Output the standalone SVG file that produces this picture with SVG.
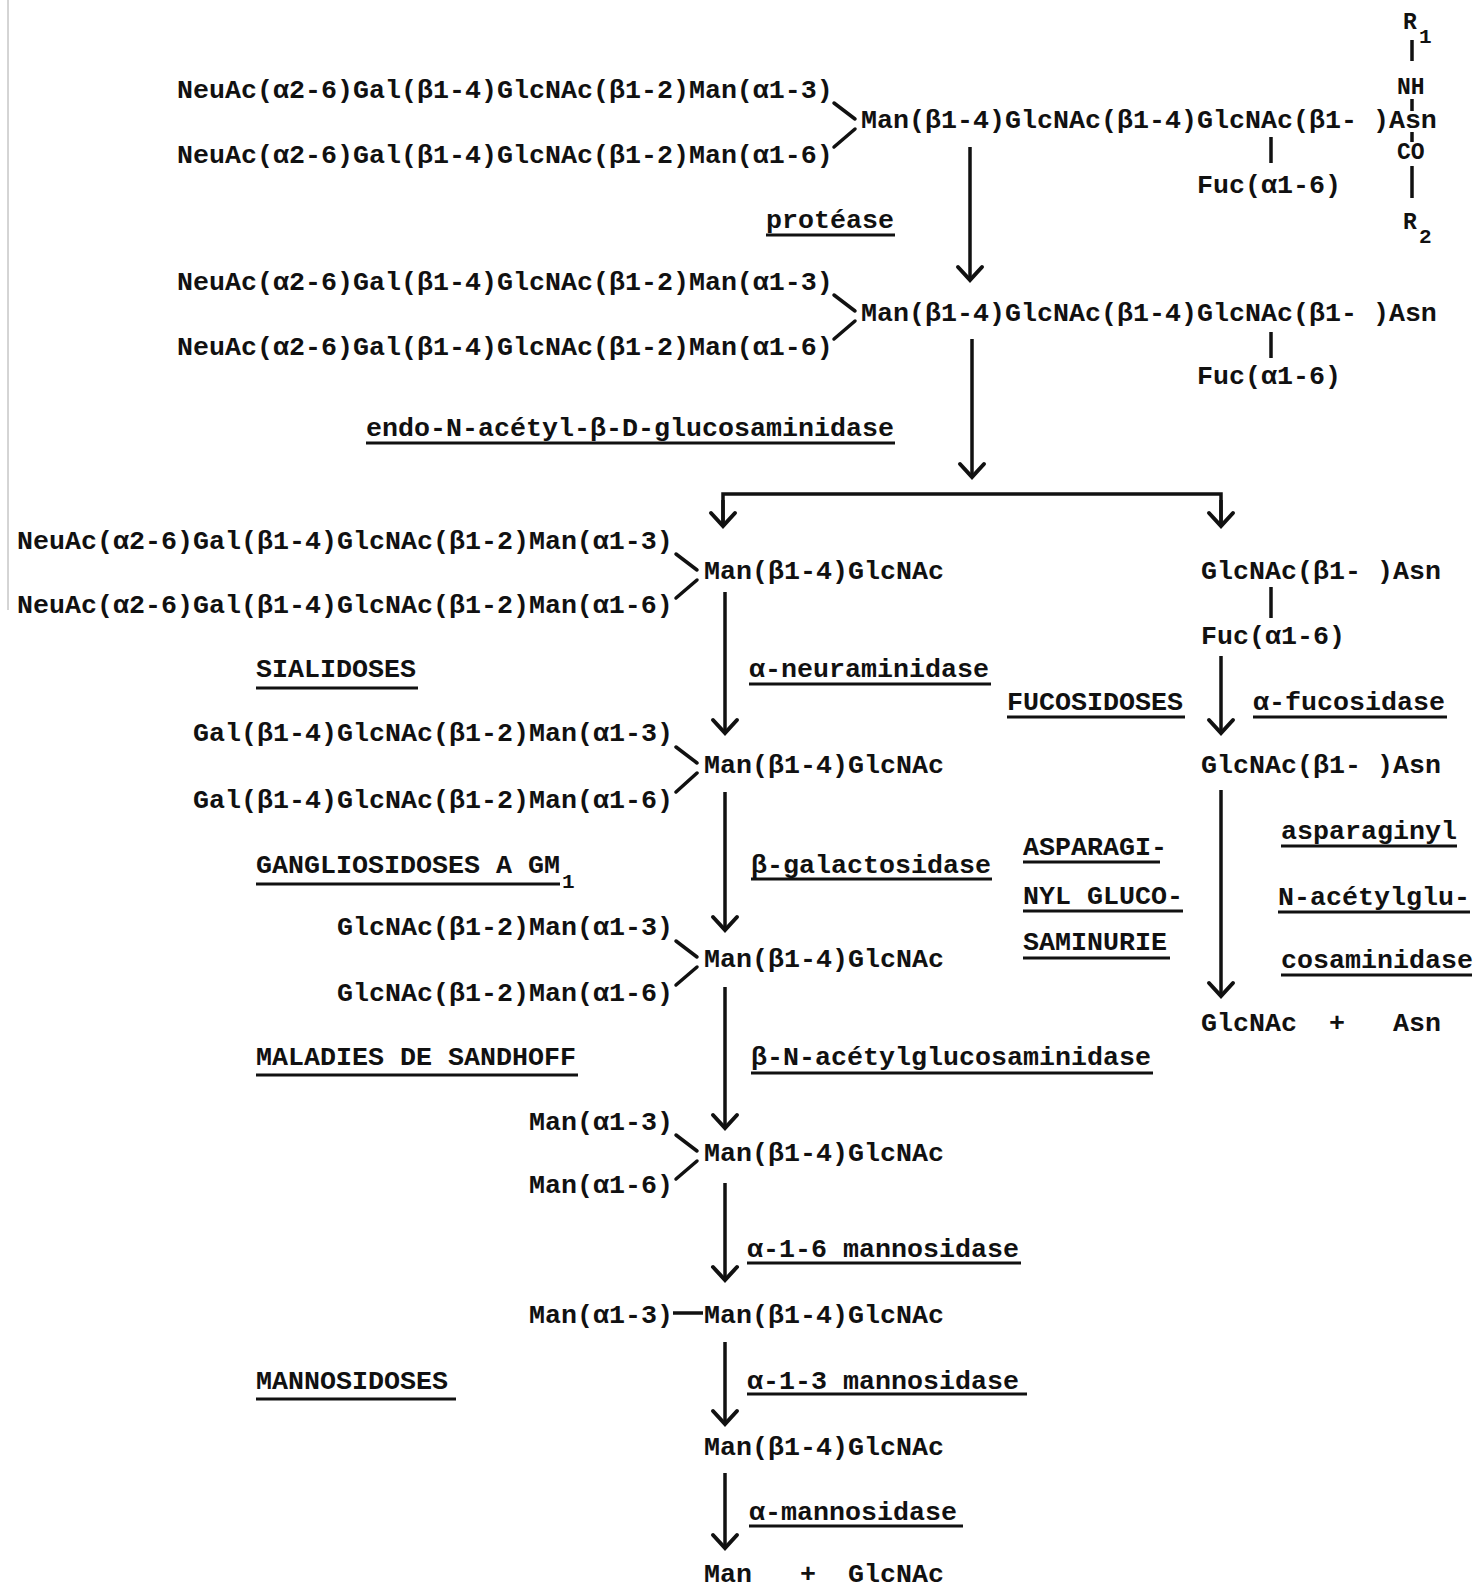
<svg xmlns="http://www.w3.org/2000/svg" width="1475" height="1587" viewBox="0 0 1475 1587">
<style>
.t{font-family:"Liberation Mono","Courier New",monospace;font-size:26.67px;font-weight:bold;fill:#111}
.s{font-size:23px}
.sub{font-size:21px}
.ul{stroke:#111;stroke-width:3;fill:none}
.b{stroke:#111;stroke-width:3.5;fill:none;stroke-linecap:round}
.c{stroke:#111;stroke-width:3.5;fill:none}
.ca{stroke:#111;stroke-width:3.5;fill:none;marker-end:url(#ah)}
</style>
<defs>
<marker id="ah" viewBox="-16 -14 20 28" refX="0" refY="0" markerWidth="20" markerHeight="28" markerUnits="userSpaceOnUse" orient="auto" overflow="visible">
<path d="M-13,-12 L0,0 L-13,12" fill="none" stroke="#111" stroke-width="4" stroke-linecap="round"/>
</marker>
</defs>
<rect width="1475" height="1587" fill="#fff"/>
<line x1="8" y1="0" x2="8" y2="610" stroke="#aaa" stroke-width="1"/>

<g id="node-glycopeptide">
<text class="t" x="177" y="98">NeuAc(α2-6)Gal(β1-4)GlcNAc(β1-2)Man(α1-3)</text>
<text class="t" x="177" y="163">NeuAc(α2-6)Gal(β1-4)GlcNAc(β1-2)Man(α1-6)</text>
<path class="b" d="M834,103 L855,119 M855,129 L834,147"/>
<text class="t" x="861" y="128">Man(β1-4)GlcNAc(β1-4)GlcNAc(β1- )Asn</text>
<line class="c" x1="1271" y1="137" x2="1271" y2="163"/>
<text class="t" x="1197" y="193">Fuc(α1-6)</text>
<text class="t s" x="1403" y="29">R</text>
<text class="t sub" x="1419" y="43">1</text>
<line class="c" x1="1412" y1="40" x2="1412" y2="61"/>
<text class="t s" x="1397" y="94">NH</text>
<line class="c" x1="1412" y1="99" x2="1412" y2="111"/>
<line class="c" x1="1412" y1="132" x2="1412" y2="142"/>
<text class="t s" x="1397" y="159">CO</text>
<line class="c" x1="1412" y1="166" x2="1412" y2="198"/>
<text class="t s" x="1403" y="229">R</text>
<text class="t sub" x="1419" y="243">2</text>
</g>

<g id="label-protease">
<text class="t" x="766" y="228">protéase</text>
<line class="ul" x1="766" y1="235" x2="895" y2="235"/>
</g>

<g id="node-glycan-asn">
<text class="t" x="177" y="290">NeuAc(α2-6)Gal(β1-4)GlcNAc(β1-2)Man(α1-3)</text>
<text class="t" x="177" y="355">NeuAc(α2-6)Gal(β1-4)GlcNAc(β1-2)Man(α1-6)</text>
<path class="b" d="M834,295 L855,311 M855,321 L834,339"/>
<text class="t" x="861" y="321">Man(β1-4)GlcNAc(β1-4)GlcNAc(β1- )Asn</text>
<line class="c" x1="1271" y1="332" x2="1271" y2="358"/>
<text class="t" x="1197" y="384">Fuc(α1-6)</text>
</g>

<g id="label-endo">
<text class="t" x="366" y="436">endo-N-acétyl-β-D-glucosaminidase</text>
<line class="ul" x1="366" y1="443" x2="895" y2="443"/>
</g>

<g id="node-sialo">
<text class="t" x="17" y="549">NeuAc(α2-6)Gal(β1-4)GlcNAc(β1-2)Man(α1-3)</text>
<text class="t" x="17" y="613">NeuAc(α2-6)Gal(β1-4)GlcNAc(β1-2)Man(α1-6)</text>
<path class="b" d="M676,554 L697,570 M697,580 L676,598"/>
<text class="t" x="704" y="579">Man(β1-4)GlcNAc</text>
</g>

<g id="node-fuc-asn">
<text class="t" x="1201" y="579">GlcNAc(β1- )Asn</text>
<line class="c" x1="1271" y1="587" x2="1271" y2="618"/>
<text class="t" x="1201" y="644">Fuc(α1-6)</text>
</g>

<g id="label-sialidoses">
<text class="t" x="256" y="677">SIALIDOSES</text>
<line class="ul" x1="256" y1="688" x2="418" y2="688"/>
</g>
<g id="label-neuraminidase">
<text class="t" x="749" y="677">α-neuraminidase</text>
<line class="ul" x1="749" y1="684" x2="991" y2="684"/>
</g>
<g id="label-fucosidoses">
<text class="t" x="1007" y="710">FUCOSIDOSES</text>
<line class="ul" x1="1007" y1="717" x2="1185" y2="717"/>
</g>
<g id="label-fucosidase">
<text class="t" x="1253" y="710">α-fucosidase</text>
<line class="ul" x1="1253" y1="717" x2="1447" y2="717"/>
</g>

<g id="node-asialo">
<text class="t" x="193" y="741">Gal(β1-4)GlcNAc(β1-2)Man(α1-3)</text>
<text class="t" x="193" y="808">Gal(β1-4)GlcNAc(β1-2)Man(α1-6)</text>
<path class="b" d="M676,747 L697,763 M697,773 L676,792"/>
<text class="t" x="704" y="773">Man(β1-4)GlcNAc</text>
</g>

<g id="node-glcnac-asn">
<text class="t" x="1201" y="773">GlcNAc(β1- )Asn</text>
</g>

<g id="label-gangliosidoses">
<text class="t" x="256" y="873">GANGLIOSIDOSES A GM</text>
<text class="t sub" x="562" y="888">1</text>
<line class="ul" x1="256" y1="884" x2="560" y2="884"/>
</g>
<g id="label-galactosidase">
<text class="t" x="751" y="873">β-galactosidase</text>
<line class="ul" x1="751" y1="879" x2="992" y2="879"/>
</g>
<g id="label-aspartylglucosaminurie">
<text class="t" x="1023" y="855">ASPARAGI-</text>
<line class="ul" x1="1023" y1="862" x2="1160" y2="862"/>
<text class="t" x="1023" y="904">NYL GLUCO-</text>
<line class="ul" x1="1023" y1="911" x2="1183" y2="911"/>
<text class="t" x="1023" y="950">SAMINURIE</text>
<line class="ul" x1="1023" y1="958" x2="1170" y2="958"/>
</g>
<g id="label-aga">
<text class="t" x="1281" y="839">asparaginyl</text>
<line class="ul" x1="1281" y1="846" x2="1457" y2="846"/>
<text class="t" x="1278" y="905">N-acétylglu-</text>
<line class="ul" x1="1278" y1="912" x2="1470" y2="912"/>
<text class="t" x="1281" y="968">cosaminidase</text>
<line class="ul" x1="1281" y1="975" x2="1472" y2="975"/>
</g>
<g id="node-products-asn">
<text class="t" x="1201" y="1031" xml:space="preserve">GlcNAc  +   Asn</text>
</g>

<g id="node-agalacto">
<text class="t" x="337" y="935">GlcNAc(β1-2)Man(α1-3)</text>
<text class="t" x="337" y="1001">GlcNAc(β1-2)Man(α1-6)</text>
<path class="b" d="M676,941 L697,957 M697,967 L676,985"/>
<text class="t" x="704" y="967">Man(β1-4)GlcNAc</text>
</g>

<g id="label-sandhoff">
<text class="t" x="256" y="1065">MALADIES DE SANDHOFF</text>
<line class="ul" x1="256" y1="1075" x2="578" y2="1075"/>
</g>
<g id="label-hexosaminidase">
<text class="t" x="751" y="1065">β-N-acétylglucosaminidase</text>
<line class="ul" x1="751" y1="1073" x2="1153" y2="1073"/>
</g>

<g id="node-man3">
<text class="t" x="529" y="1130">Man(α1-3)</text>
<text class="t" x="529" y="1193">Man(α1-6)</text>
<path class="b" d="M676,1135 L697,1151 M697,1161 L676,1179"/>
<text class="t" x="704" y="1161">Man(β1-4)GlcNAc</text>
</g>

<g id="label-mannosidase16">
<text class="t" x="747" y="1257">α-1-6 mannosidase</text>
<line class="ul" x1="747" y1="1263" x2="1021" y2="1263"/>
</g>

<g id="node-man2">
<text class="t" x="529" y="1323">Man(α1-3)</text>
<line class="c" x1="673" y1="1313" x2="703" y2="1313"/>
<text class="t" x="704" y="1323">Man(β1-4)GlcNAc</text>
</g>

<g id="label-mannosidoses">
<text class="t" x="256" y="1389">MANNOSIDOSES</text>
<line class="ul" x1="256" y1="1399" x2="456" y2="1399"/>
</g>
<g id="label-mannosidase13">
<text class="t" x="747" y="1389">α-1-3 mannosidase</text>
<line class="ul" x1="747" y1="1394" x2="1027" y2="1394"/>
</g>

<g id="node-man1">
<text class="t" x="704" y="1455">Man(β1-4)GlcNAc</text>
</g>

<g id="label-amannosidase">
<text class="t" x="749" y="1520">α-mannosidase</text>
<line class="ul" x1="749" y1="1526" x2="963" y2="1526"/>
</g>

<g id="node-products-man">
<text class="t" x="704" y="1582" xml:space="preserve">Man   +  GlcNAc</text>
</g>

<g id="connectors">
<line class="ca" x1="970" y1="147" x2="970" y2="280"/>
<line class="ca" x1="972" y1="339" x2="972" y2="477"/>
<path class="c" d="M723,525 L723,494 L1221,494 L1221,525" stroke-width="4.5"/>
<line class="ca" x1="723" y1="500" x2="723" y2="526"/>
<line class="ca" x1="1221" y1="500" x2="1221" y2="526"/>
<line class="ca" x1="725" y1="592" x2="725" y2="733"/>
<line class="ca" x1="1221" y1="656" x2="1221" y2="733"/>
<line class="ca" x1="725" y1="792" x2="725" y2="930"/>
<line class="ca" x1="1221" y1="790" x2="1221" y2="996"/>
<line class="ca" x1="725" y1="987" x2="725" y2="1128"/>
<line class="ca" x1="725" y1="1183" x2="725" y2="1280"/>
<line class="ca" x1="725" y1="1342" x2="725" y2="1424"/>
<line class="ca" x1="725" y1="1473" x2="725" y2="1548"/>
</g>
</svg>
